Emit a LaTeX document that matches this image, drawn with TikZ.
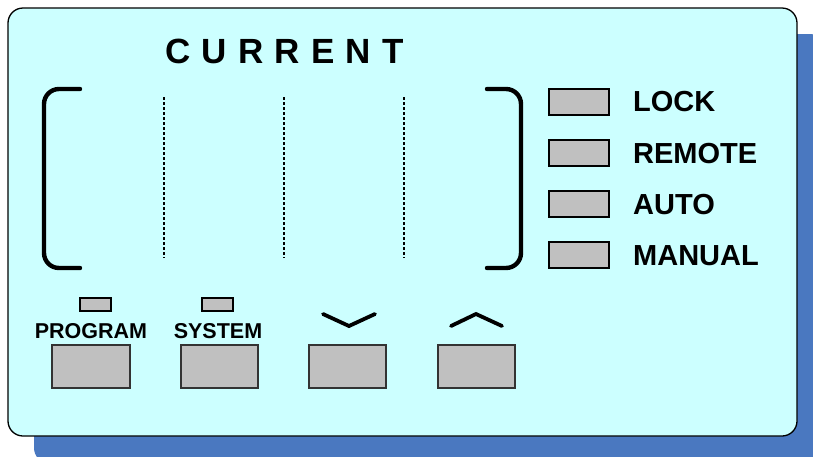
\documentclass[tikz,border=0pt]{standalone}
\usepackage{fontspec}
\setmainfont{Liberation Sans}
\begin{document}
\begin{tikzpicture}[x=1pt,y=-1pt,
  ledbox/.style={draw=black,line width=2.4,fill=ledgray},
  smallled/.style={draw=black,line width=2,fill=ledgray},
  keybox/.style={draw=black!80,line width=1.3,fill=ledgray},
  bracketline/.style={line width=4.4,line cap=round,rounded corners=15},
  sepline/.style={line width=2.6,dash pattern=on 2.5 off 2.5},
  chevron/.style={line width=3.8,line cap=round,line join=miter},
  lbl/.style={font=\bfseries\fontsize{29}{29}\selectfont,anchor=base west,inner sep=0},
  klbl/.style={font=\bfseries\fontsize{21.5}{21.5}\selectfont,anchor=base,inner sep=0}]
\definecolor{panelfill}{HTML}{CCFFFF}
\definecolor{shadowblue}{HTML}{4A78C0}
\definecolor{ledgray}{HTML}{C0C0C0}
\useasboundingbox (0,0) rectangle (813,456);
% shadow and panel
\fill[shadowblue,rounded corners=15] (34,34) rectangle (825,463);
\draw[fill=panelfill,line width=1.3,rounded corners=15] (8,8) rectangle (797,436);
% title
\node[font=\bfseries\fontsize{35}{35}\selectfont,anchor=base,inner sep=0] (title) at (284.5,63)
  {C\hspace{11.3pt}U\hspace{11.3pt}R\hspace{11.3pt}R\hspace{11.3pt}E\hspace{11.3pt}N\hspace{11.3pt}T};
% brackets
\draw[bracketline] (80,89) -- (44,89) -- (44,268) -- (80,268);
\draw[bracketline] (487,89) -- (521,89) -- (521,268) -- (487,268);
% digit separators
\coordinate (s1t) at (164,97); \coordinate (s1b) at (164,258);
\coordinate (s2t) at (284,97); \coordinate (s2b) at (284,258);
\coordinate (s3t) at (404,97); \coordinate (s3b) at (404,258);
\draw[sepline] (s1t) -- (s1b);
\draw[sepline] (s2t) -- (s2b);
\draw[sepline] (s3t) -- (s3b);
% status indicators
\draw[ledbox] (549,89) rectangle (609,115);
\draw[ledbox] (549,140) rectangle (609,166);
\draw[ledbox] (549,191) rectangle (609,217);
\draw[ledbox] (549,242) rectangle (609,268);
\node[lbl] (lock) at (633,111.5) {LOCK};
\node[lbl] (remote) at (633,163) {REMOTE};
\node[lbl] (auto) at (633,214) {AUTO};
\node[lbl] (manual) at (633,265.5) {MANUAL};
% small leds
\draw[smallled] (80,298) rectangle (111,311);
\draw[smallled] (202,298) rectangle (233,311);
\node[klbl] (program) at (91,338) {PROGRAM};
\node[klbl] (system) at (218,338) {SYSTEM};
% chevrons
\draw[chevron] (323,314) -- (349,326) -- (375,314);
\draw[chevron] (451,326) -- (476,314) -- (502,326);
% keys
\draw[keybox] (52,345) rectangle (130,388);
\draw[keybox] (181,345) rectangle (258,388);
\draw[keybox] (309,345) rectangle (386,388);
\draw[keybox] (438,345) rectangle (515,388);
\end{tikzpicture}
\end{document}
